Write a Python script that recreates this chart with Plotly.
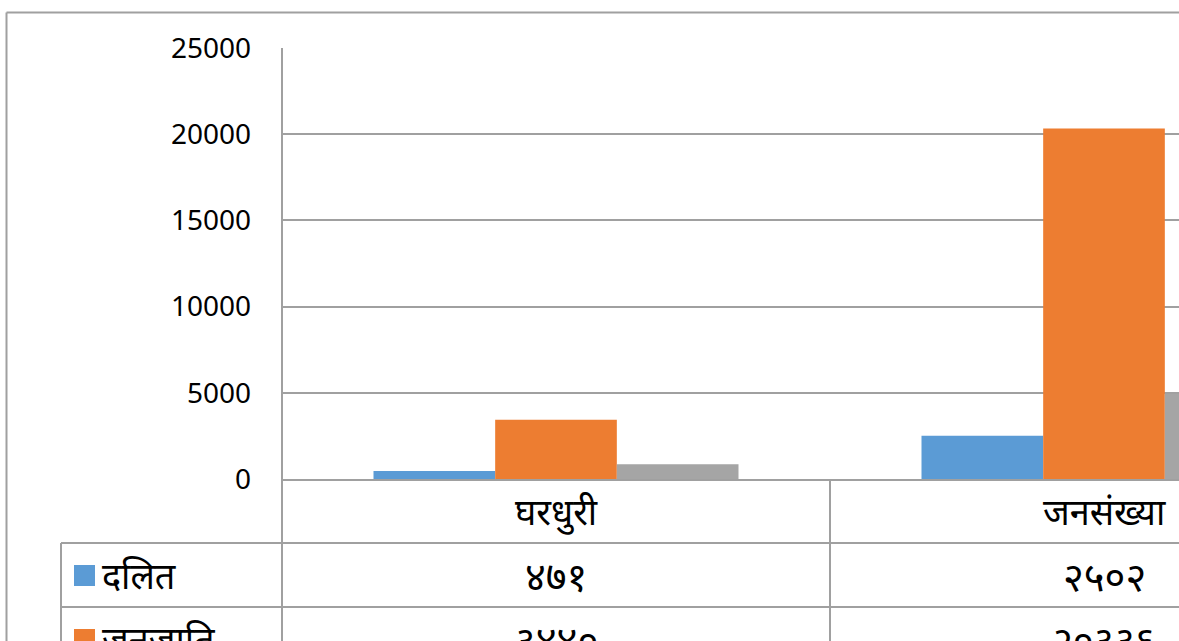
import plotly.graph_objects as go

# ---- data ----
categories = ["घरधुरी", "जनसंख्या"]
series_names = ["दलित", "जनजाति", "अन्य"]
dalit = [471, 2502]
janajati = [3440, 20336]
anya = [850, 4950]
table_labels = {
    "दलित": ["४७१", "२५०२"],
    "जनजाति": ["३४४०", "२०३३६"],
    "अन्य": ["८५०", "४९५०"],
}
y_ticks = [0, 5000, 10000, 15000, 20000, 25000]

colors = ["#5B9BD5", "#ED7D31", "#A5A5A5"]
values = [dalit, janajati, anya]

W, H = 1179, 641
L, R, T, B = 282, 1179, 48, 479
cat_w = 548
xmin = -0.5
xmax = xmin + (R - L) / cat_w
FONT = "Noto Sans, Lato, sans-serif"
LINE = "#A0A0A0"
DEV_SIZE = 36
DIG_SIZE = 40

def px(x):
    return (x - L) / (R - L)

def py(y):
    return (B - y) / (B - T)

def xdata_to_px(v):
    return L + (v - xmin) / (xmax - xmin) * (R - L)

fig = go.Figure()
for name, vals, col in zip(series_names, values, colors):
    fig.add_trace(go.Bar(x=list(range(len(categories))), y=vals, name=name,
                         marker=dict(color=col, line=dict(width=0))))

shapes = []
def hline(y, x0, x1):
    shapes.append(dict(type="line", xref="paper", yref="paper",
                       x0=px(x0), x1=px(x1), y0=py(y), y1=py(y),
                       line=dict(color=LINE, width=2)))
def vline(x, y0, y1):
    shapes.append(dict(type="line", xref="paper", yref="paper",
                       x0=px(x), x1=px(x), y0=py(y0), y1=py(y1),
                       line=dict(color=LINE, width=2)))

# outer chart border
hline(12.5, 6.5, W + 5)
vline(6.5, 12.5, H + 5)

row_h = 64
# table grid
vline(L, T, H + 5)
vline(61, B + row_h, H + 5)
for i in range(len(categories) + 1):
    xb = xdata_to_px(i + 0.5)
    vline(xb, B, H + 5)
for r in range(len(series_names)):
    yy = B + row_h * (r + 1)
    hline(yy, 61, W + 5)

annotations = []
# category header row
for i, c in enumerate(categories):
    annotations.append(dict(xref="paper", yref="paper", x=px(xdata_to_px(i)),
                            y=py(B + row_h / 2), text=c, showarrow=False,
                            font=dict(family=FONT, size=DEV_SIZE, color="#000000"),
                            xanchor="center", yanchor="middle"))
# value rows
for r, name in enumerate(series_names):
    yc = B + row_h * (r + 1) + row_h / 2
    shapes.append(dict(type="rect", xref="paper", yref="paper",
                       x0=px(74), x1=px(95), y0=py(yc - 10), y1=py(yc + 11),
                       fillcolor=colors[r], line=dict(width=0)))
    annotations.append(dict(xref="paper", yref="paper", x=px(100), y=py(yc),
                            text=name, showarrow=False,
                            font=dict(family=FONT, size=DEV_SIZE, color="#000000"),
                            xanchor="left", yanchor="middle"))
    for i, lab in enumerate(table_labels[name]):
        annotations.append(dict(xref="paper", yref="paper", x=px(xdata_to_px(i)),
                                y=py(yc), text=lab, showarrow=False,
                                font=dict(family=FONT, size=DIG_SIZE, color="#000000"),
                                xanchor="center", yanchor="middle"))

fig.update_layout(
    width=W, height=H,
    margin=dict(l=L, r=W - R, t=T, b=H - B, pad=0),
    paper_bgcolor="white", plot_bgcolor="white",
    barmode="group", bargap=183 / 548, bargroupgap=0,
    showlegend=False,
    shapes=shapes, annotations=annotations,
    xaxis=dict(range=[xmin, xmax], showticklabels=False, showgrid=False,
               zeroline=False, showline=True, linecolor=LINE, linewidth=2,
               ticks=""),
    yaxis=dict(range=[0, 25000], tickvals=y_ticks,
               ticktext=[str(v) for v in y_ticks],
               showgrid=True, gridcolor=LINE, gridwidth=2,
               zeroline=False, showline=False, ticks="",
               ticklabelstandoff=30,
               tickfont=dict(family=FONT, size=28, color="#000000")),
)

fig.write_html("out.html", config={"displayModeBar": False},
               post_script="document.body.style.margin='0';document.body.style.overflow='hidden';")
